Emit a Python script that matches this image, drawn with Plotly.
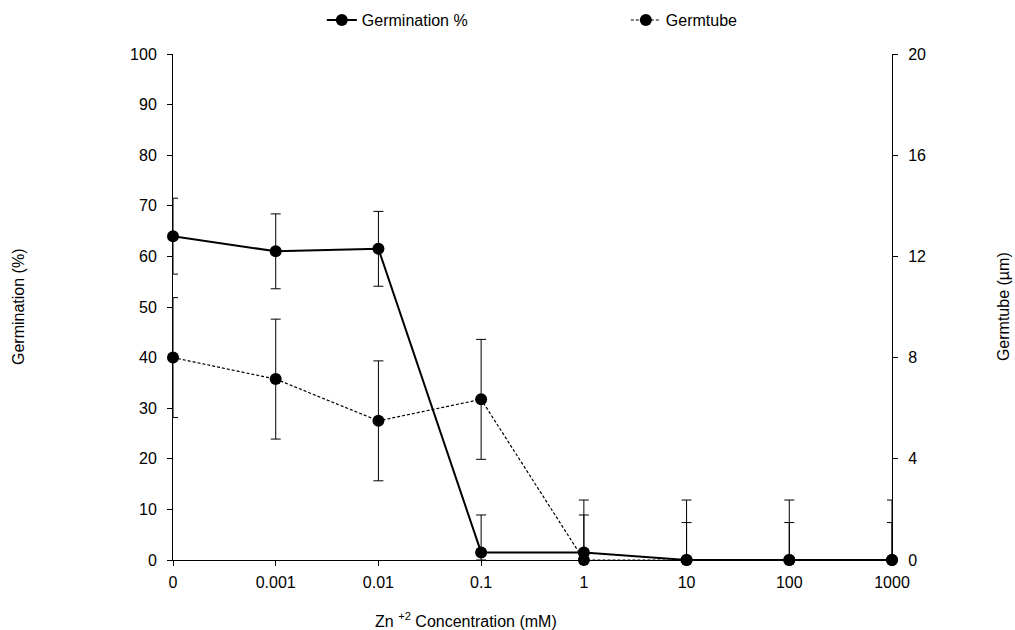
import plotly.graph_objects as go

# Zn+2 concentration categories (mM)
concentrations = ["0", "0.001", "0.01", "0.1", "1", "10", "100", "1000"]

# Germination (%) with standard deviation
germination = [64.0, 61.0, 61.5, 1.5, 1.5, 0.0, 0.0, 0.0]
germination_sd = [7.5, 7.4, 7.4, 7.4, 7.4, 7.4, 7.4, 7.4]

# Germ tube length (µm) with standard deviation
germtube = [8.0, 7.15, 5.5, 6.35, 0.0, 0.0, 0.0, 0.0]
germtube_sd = [2.37, 2.37, 2.37, 2.37, 2.37, 2.37, 2.37, 2.37]

FONT = "Liberation Sans, Arial, sans-serif"
SIZE = 16
positions = list(range(len(concentrations)))

# lower error arms stop at zero so bars never dip below the axis
germ_minus = [min(s, v) for s, v in zip(germination_sd, germination)]
tube_minus = [min(s, v) for s, v in zip(germtube_sd, germtube)]

fig = go.Figure()

fig.add_trace(go.Scatter(
    x=positions, y=germination, name="Germination %",
    mode="lines+markers",
    line=dict(color="black", width=2),
    marker=dict(color="black", size=12),
    error_y=dict(type="data", array=germination_sd, arrayminus=germ_minus,
                 symmetric=False, color="black", thickness=1, width=5),
    cliponaxis=False,
))

fig.add_trace(go.Scatter(
    x=positions, y=germtube, name="Germtube", yaxis="y2",
    mode="lines+markers",
    line=dict(color="black", width=1.2, dash="3px,2px"),
    marker=dict(color="black", size=12),
    error_y=dict(type="data", array=germtube_sd, arrayminus=tube_minus,
                 symmetric=False, color="black", thickness=1, width=5),
    cliponaxis=False,
))

axis_common = dict(
    showline=True, linecolor="black", linewidth=1,
    ticks="outside", ticklen=5, tickcolor="black", tickwidth=1,
    showgrid=False, zeroline=False,
    tickfont=dict(family=FONT, size=SIZE, color="black"),
)

title_font = dict(family=FONT, size=SIZE, color="black")

fig.update_layout(
    width=1015, height=630,
    margin=dict(l=173, r=123, t=54, b=70, autoexpand=False),
    paper_bgcolor="white", plot_bgcolor="white",
    font=dict(family=FONT, size=SIZE, color="black"),
    xaxis=dict(range=[0, 7], tickvals=positions, ticktext=concentrations,
               ticklabelstandoff=3, **axis_common),
    yaxis=dict(range=[0, 100], dtick=10, ticklabelstandoff=7, **axis_common),
    yaxis2=dict(range=[0, 20], dtick=4, overlaying="y", side="right",
                anchor="x", ticklabelstandoff=7, **axis_common),
    showlegend=True,
    legend=dict(orientation="h", x=0.207, xanchor="left",
                y=1.067, yanchor="middle",
                entrywidth=259, entrywidthmode="pixels",
                font=title_font, bgcolor="rgba(0,0,0,0)"),
    annotations=[
        dict(text="Germination (%)", xref="paper", yref="paper",
             x=-0.2156, y=0.5, xanchor="center", yanchor="middle",
             textangle=-90, showarrow=False, font=title_font),
        dict(text="Germtube (µm)", xref="paper", yref="paper",
             x=1.1545, y=0.5, xanchor="center", yanchor="middle",
             textangle=-90, showarrow=False, font=title_font),
        dict(text="Zn <sup>+2</sup> Concentration (mM)", xref="paper",
             yref="paper", x=0.4075, y=-0.1186, xanchor="center",
             yanchor="middle", showarrow=False, font=title_font),
    ],
)

fig.write_html("out.html")
